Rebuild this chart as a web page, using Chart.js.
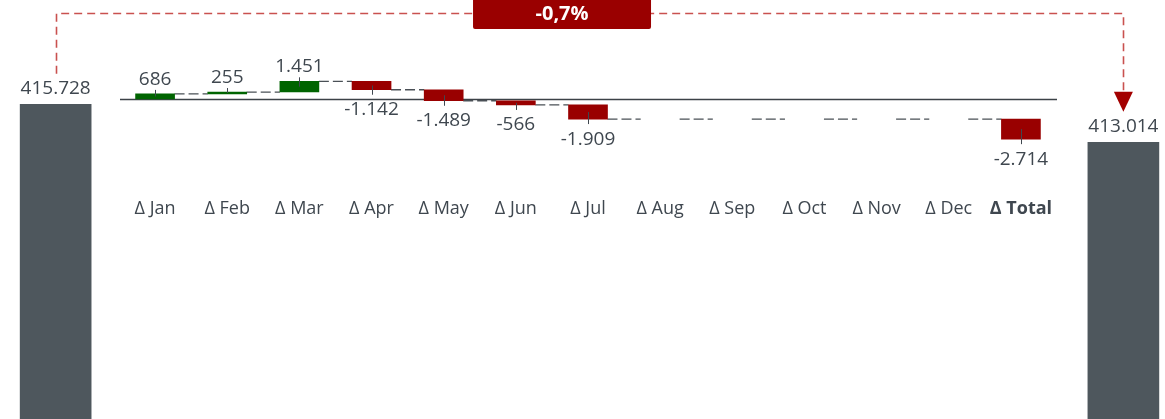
<!DOCTYPE html>
<html><head><meta charset="utf-8">
<script src="https://cdn.jsdelivr.net/npm/chart.js@4"></script>
<style>html,body{margin:0;padding:0;background:#fff;overflow:hidden}#wrap{width:1165px;height:419px;position:relative}canvas{display:block}</style>
</head><body><div id="wrap"><canvas id="c" width="1165" height="419"></canvas></div>
<script>
// ---- data ----
const CATEGORIES = ['Δ Jan','Δ Feb','Δ Mar','Δ Apr','Δ May','Δ Jun','Δ Jul','Δ Aug','Δ Sep','Δ Oct','Δ Nov','Δ Dec','Δ Total'];
const MONTHLY_DELTAS = [686, 255, 1451, -1142, -1489, -566, -1909, null, null, null, null, null];
const TOTAL_DELTA = -2714;
const START_VALUE = 415728;
const END_VALUE = 413014;

// ---- layout / style constants ----
const FONT = '"Open Sans", "Noto Sans", sans-serif';
const TEXT = '#3f474f';
const GREEN = '#006400';
const RED = '#990000';
const GRAY = '#4e575d';
const START_POS = -1.378, END_POS = 13.42, BOX_POS = 5.64;
const INSET = 0.27;

// waterfall geometry derived from the data
let level = 0;
const floating = [], levels = [];
MONTHLY_DELTAS.forEach(d => {
  if (d === null) { floating.push(null); }
  else { floating.push([level, level + d]); level += d; }
  levels.push(level);
});
floating.push([level, level + TOTAL_DELTA]);
const signs = MONTHLY_DELTAS.concat([TOTAL_DELTA]);
const connectors = [];
levels.forEach((lv, i) => {
  connectors.push({x: i + INSET, y: lv}, {x: i + 1 - INSET, y: lv}, {x: i + 1 - INSET + 0.01, y: null});
});

function fmt(n) {
  const s = Math.abs(n).toString().replace(/\B(?=(\d{3})+(?!\d))/g, '.');
  return (n < 0 ? '-' : '') + s;
}
const pct = ((END_VALUE - START_VALUE) / START_VALUE * 100).toFixed(1).replace('.', ',') + '%';

const baseline = {
  id: 'baseline',
  beforeDatasetsDraw(chart) {
    const {ctx, chartArea, scales} = chart;
    const y = Math.round(scales.y.getPixelForValue(0)) + 0.5;
    ctx.save();
    ctx.strokeStyle = '#3c4247'; ctx.lineWidth = 1.3;
    ctx.beginPath(); ctx.moveTo(chartArea.left + 1, y); ctx.lineTo(chartArea.right, y); ctx.stroke();
    ctx.restore();
  }
};

const labels = {
  id: 'labels',
  afterDatasetsDraw(chart) {
    const {ctx} = chart;
    ctx.save();
    ctx.font = '19px ' + FONT;
    ctx.fillStyle = TEXT; ctx.strokeStyle = TEXT; ctx.lineWidth = 1;
    ctx.textAlign = 'center'; ctx.textBaseline = 'alphabetic';
    const meta = chart.getDatasetMeta(0);
    meta.data.forEach((bar, i) => {
      const v = signs[i];
      if (v === null || floating[i] === null) return;
      const top = Math.min(bar.y, bar.base), bot = Math.max(bar.y, bar.base);
      const mid = (top + bot) / 2;
      const x = Math.round(bar.x) + 0.5;
      ctx.beginPath();
      if (v >= 0) { ctx.moveTo(x, mid); ctx.lineTo(x, top - 4); }
      else { ctx.moveTo(x, mid); ctx.lineTo(x, bot + 5); }
      ctx.stroke();
      if (v >= 0) ctx.fillText(fmt(v), bar.x, top - 9);
      else ctx.fillText(fmt(v), bar.x, bot + 25.5);
    });
    const tm = chart.getDatasetMeta(1);
    [START_VALUE, END_VALUE].forEach((v, i) => {
      const bar = tm.data[i];
      ctx.fillText(fmt(v), bar.x, bar.y - 10.5);
    });
    ctx.restore();
  }
};

const bracket = {
  id: 'bracket',
  afterDatasetsDraw(chart) {
    const {ctx, scales} = chart;
    const xs = scales.xT.getPixelForValue(START_POS), xe = scales.xT.getPixelForValue(END_POS);
    const ys = scales.y2.getPixelForValue(START_VALUE) - 30.5;
    const ye = scales.y2.getPixelForValue(END_VALUE) - 30.5;
    const yb = 13.5;
    ctx.save();
    ctx.strokeStyle = '#c9514f'; ctx.lineWidth = 1.6; ctx.setLineDash([8, 5]);
    ctx.beginPath();
    ctx.moveTo(Math.round(xs) + 0.5, ys); ctx.lineTo(Math.round(xs) + 0.5, yb);
    ctx.lineTo(Math.round(xe) + 0.5, yb); ctx.lineTo(Math.round(xe) + 0.5, ye - 19);
    ctx.stroke();
    ctx.setLineDash([]);
    ctx.fillStyle = '#a30000';
    ctx.beginPath(); ctx.moveTo(xe - 9.5, ye - 20); ctx.lineTo(xe + 9.5, ye - 20); ctx.lineTo(xe, ye); ctx.closePath(); ctx.fill();
    const bx = scales.xT.getPixelForValue(BOX_POS);
    ctx.fillStyle = '#9a0000';
    ctx.beginPath();
    if (ctx.roundRect) ctx.roundRect(bx - 89, -3, 178, 32, 2); else ctx.rect(bx - 89, -3, 178, 32);
    ctx.fill();
    ctx.fillStyle = '#ffffff'; ctx.font = 'bold 20px ' + FONT;
    ctx.textAlign = 'center'; ctx.textBaseline = 'alphabetic';
    ctx.fillText(pct, bx, 20);
    ctx.restore();
  }
};

new Chart(document.getElementById('c'), {
  type: 'bar',
  data: {
    labels: CATEGORIES,
    datasets: [
      {
        label: 'Delta', data: floating, xAxisID: 'x', yAxisID: 'y',
        backgroundColor: signs.map(v => (v !== null && v >= 0) ? GREEN : RED),
        barThickness: 39, grouped: false, order: 1
      },
      {
        label: 'Total', data: [{x: START_POS, y: START_VALUE}, {x: END_POS, y: END_VALUE}],
        xAxisID: 'xT', yAxisID: 'y2', backgroundColor: GRAY,
        barThickness: 71, grouped: false, clip: false, order: 2
      },
      {
        type: 'line', label: 'Connector', data: connectors, xAxisID: 'xT', yAxisID: 'y',
        borderColor: '#4a5056', borderWidth: 1.3, borderDash: [10, 4], pointRadius: 0,
        spanGaps: false, fill: false, clip: false, order: 3
      }
    ]
  },
  options: {
    responsive: false, maintainAspectRatio: false, animation: false, devicePixelRatio: 1,
    layout: {padding: {left: 119, right: 108, top: 0, bottom: 0}},
    plugins: {legend: {display: false}, tooltip: {enabled: false}},
    scales: {
      x: {
        type: 'category', offset: true, position: {y: -13000},
        grid: {display: false, drawTicks: false, offset: true}, border: {display: false},
        ticks: {
          color: TEXT, padding: 3, autoSkip: false, maxRotation: 0,
          font: (c) => ({family: FONT, size: 18, weight: c.index === CATEGORIES.length - 1 ? 'bold' : 'normal'})
        }
      },
      xT: {type: 'linear', display: false, offset: false, grid: {offset: false}, min: -0.5, max: 12.5},
      y: {type: 'linear', display: false, min: -43250, max: 13380},
      y2: {type: 'linear', display: false, min: 393250, max: 423180}
    }
  },
  plugins: [baseline, labels, bracket]
});
</script>
</body></html>
